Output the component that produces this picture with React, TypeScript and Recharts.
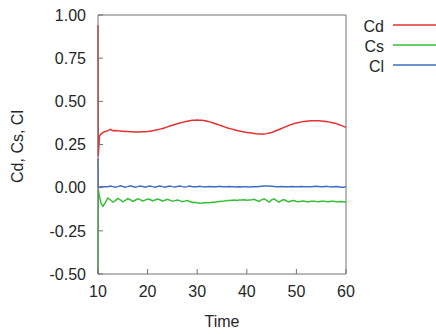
import { LineChart, Line, XAxis, YAxis, Legend } from "recharts";

const TIME = [
  10, 10.05, 10.3, 10.6, 11, 11.5, 12, 12.5, 13, 13.5, 14, 14.5, 15, 15.5, 16, 16.5, 17, 17.5,
  18, 18.5, 19, 19.5, 20, 20.5, 21, 21.5, 22, 22.5, 23, 23.5, 24, 24.5, 25, 25.5, 26, 26.5,
  27, 27.5, 28, 28.5, 29, 29.5, 30, 30.5, 31, 31.5, 32, 32.5, 33, 33.5, 34, 34.5, 35, 35.5,
  36, 36.5, 37, 37.5, 38, 38.5, 39, 39.5, 40, 40.5, 41, 41.5, 42, 42.5, 43, 43.5, 44, 44.5,
  45, 45.5, 46, 46.5, 47, 47.5, 48, 48.5, 49, 49.5, 50, 50.5, 51, 51.5, 52, 52.5, 53, 53.5,
  54, 54.5, 55, 55.5, 56, 56.5, 57, 57.5, 58, 58.5, 59, 59.5, 60,
];

const CD = [
  0.94, 0.18, 0.3, 0.31, 0.32, 0.325, 0.33, 0.338, 0.33, 0.331, 0.329, 0.328, 0.327, 0.326,
  0.325, 0.324, 0.324, 0.323, 0.323, 0.323, 0.324, 0.324, 0.325, 0.327, 0.329, 0.332, 0.335,
  0.339, 0.343, 0.347, 0.352, 0.357, 0.362, 0.366, 0.37, 0.374, 0.378, 0.382, 0.385, 0.388,
  0.39, 0.391, 0.392, 0.391, 0.39, 0.388, 0.385, 0.381, 0.377, 0.372, 0.367, 0.362, 0.357,
  0.352, 0.347, 0.343, 0.339, 0.335, 0.331, 0.328, 0.325, 0.322, 0.32, 0.318, 0.316, 0.314,
  0.312, 0.311, 0.311, 0.311, 0.313, 0.316, 0.32, 0.325, 0.331, 0.337, 0.343, 0.349, 0.355,
  0.361, 0.366, 0.371, 0.375, 0.378, 0.381, 0.383, 0.385, 0.386, 0.387, 0.388, 0.387, 0.387,
  0.386, 0.385, 0.383, 0.381, 0.378, 0.375, 0.371, 0.366, 0.361, 0.355, 0.349,
];

const CS = [
  -0.5, -0.01, -0.05, -0.09, -0.108, -0.085, -0.06, -0.07, -0.084, -0.075, -0.062, -0.07,
  -0.082, -0.074, -0.064, -0.07, -0.08, -0.073, -0.065, -0.069, -0.078, -0.072, -0.066,
  -0.069, -0.077, -0.071, -0.066, -0.07, -0.078, -0.073, -0.068, -0.072, -0.079, -0.075,
  -0.071, -0.075, -0.082, -0.078, -0.075, -0.08, -0.086, -0.085, -0.088, -0.09, -0.089,
  -0.087, -0.088, -0.087, -0.085, -0.084, -0.082, -0.08, -0.078, -0.077, -0.075, -0.074,
  -0.073, -0.072, -0.074, -0.071, -0.072, -0.07, -0.073, -0.071, -0.07, -0.067, -0.074,
  -0.08, -0.069, -0.064, -0.074, -0.083, -0.071, -0.065, -0.075, -0.084, -0.074, -0.069,
  -0.077, -0.082, -0.076, -0.074, -0.08, -0.082, -0.078, -0.077, -0.081, -0.082, -0.079,
  -0.078, -0.08, -0.081, -0.079, -0.078, -0.08, -0.081, -0.079, -0.079, -0.081, -0.082,
  -0.08, -0.081, -0.083,
];

const CL = [
  0.17, 0.0, 0.004, 0.006, 0.006, 0.006, 0.005, 0.01, 0.006, 0.002, 0.006, 0.011, 0.007,
  0.002, 0.006, 0.011, 0.007, 0.003, 0.006, 0.01, 0.007, 0.003, 0.007, 0.01, 0.006, 0.003,
  0.007, 0.01, 0.006, 0.003, 0.007, 0.009, 0.006, 0.004, 0.007, 0.01, 0.006, 0.004, 0.006,
  0.009, 0.006, 0.005, 0.006, 0.008, 0.006, 0.004, 0.006, 0.007, 0.006, 0.005, 0.006,
  0.008, 0.006, 0.005, 0.006, 0.007, 0.006, 0.005, 0.004, 0.005, 0.004, 0.006, 0.005,
  0.004, 0.005, 0.006, 0.006, 0.007, 0.008, 0.009, 0.01, 0.009, 0.008, 0.007, 0.006,
  0.006, 0.007, 0.006, 0.005, 0.006, 0.007, 0.006, 0.005, 0.006, 0.007, 0.006, 0.005,
  0.006, 0.006, 0.007, 0.008, 0.007, 0.005, 0.006, 0.008, 0.006, 0.004, 0.006, 0.007,
  0.005, 0.002, 0.003, 0.006,
];

const X_TICKS = [10, 20, 30, 40, 50, 60];
const Y_TICKS = [-0.5, -0.25, 0, 0.25, 0.5, 0.75, 1];

const SERIES = [
  { key: "cd", name: "Cd", color: "#e63030" },
  { key: "cs", name: "Cs", color: "#36c036" },
  { key: "cl", name: "Cl", color: "#3e6fc4" },
];

const FONT = "Arial, 'Liberation Sans', sans-serif";
const AXIS = "#737373";
const TEXT = "#262626";

const data = TIME.map((t, i) => ({ t, cd: CD[i], cs: CS[i], cl: CL[i] }));

function renderLegend(props: any) {
  const names = SERIES.map((s) => s.name);
  const items = [...(props.payload || [])].sort(
    (a: any, b: any) => names.indexOf(a.value) - names.indexOf(b.value)
  );
  return (
    <svg width={86} height={70} style={{ display: "block" }}>
      {items.map((p: any, i: number) => (
        <g key={p.value}>
          <text
            x={34}
            y={11 + 20 * i}
            textAnchor="end"
            dominantBaseline="central"
            fontSize={16}
            fontFamily={FONT}
            fill={TEXT}
          >
            {p.value}
          </text>
          <line x1={43} x2={86} y1={10 + 20 * i} y2={10 + 20 * i} stroke={p.color} strokeWidth={1.5} />
        </g>
      ))}
    </svg>
  );
}

export default function App() {
  const tickStyle = { fontSize: 16, fill: TEXT, fontFamily: FONT };
  return (
    <div style={{ position: "absolute", left: 0, top: 0, background: "#fff" }}>
      <LineChart width={436} height={334} data={data} margin={{ top: 14, right: 89, bottom: 0, left: 0 }}>
        <XAxis
          dataKey="t"
          type="number"
          domain={[10, 60]}
          ticks={X_TICKS}
          height={60}
          stroke={AXIS}
          tickSize={-5}
          tickMargin={17}
          tick={tickStyle}
          label={{ value: "Time", position: "center", dy: 17, style: { ...tickStyle, textAnchor: "middle" } }}
        />
        <XAxis
          xAxisId="top"
          orientation="top"
          dataKey="t"
          type="number"
          domain={[10, 60]}
          ticks={X_TICKS}
          height={1}
          stroke={AXIS}
          tickSize={-5}
          tick={false}
        />
        <YAxis
          type="number"
          domain={[-0.5, 1]}
          ticks={Y_TICKS}
          width={98}
          stroke={AXIS}
          tickSize={-5}
          tickMargin={17}
          tick={tickStyle}
          tickFormatter={(v: number) => v.toFixed(2)}
          label={{ value: "Cd, Cs, Cl", angle: -90, position: "center", dx: -32, dy: 2, style: { ...tickStyle, textAnchor: "middle" } }}
        />
        <YAxis
          yAxisId="r"
          orientation="right"
          type="number"
          domain={[-0.5, 1]}
          ticks={Y_TICKS}
          width={1}
          stroke={AXIS}
          tickSize={-5}
          tick={false}
        />
        <Legend
          layout="vertical"
          verticalAlign="middle"
          align="center"
          content={renderLegend}
          wrapperStyle={{ left: 350, top: 15, width: 86, height: 70 }}
        />
        {SERIES.map((s) => (
          <Line
            key={s.key}
            type="linear"
            dataKey={s.key}
            name={s.name}
            stroke={s.color}
            strokeWidth={1.5}
            dot={false}
            isAnimationActive={false}
          />
        ))}
      </LineChart>
    </div>
  );
}
